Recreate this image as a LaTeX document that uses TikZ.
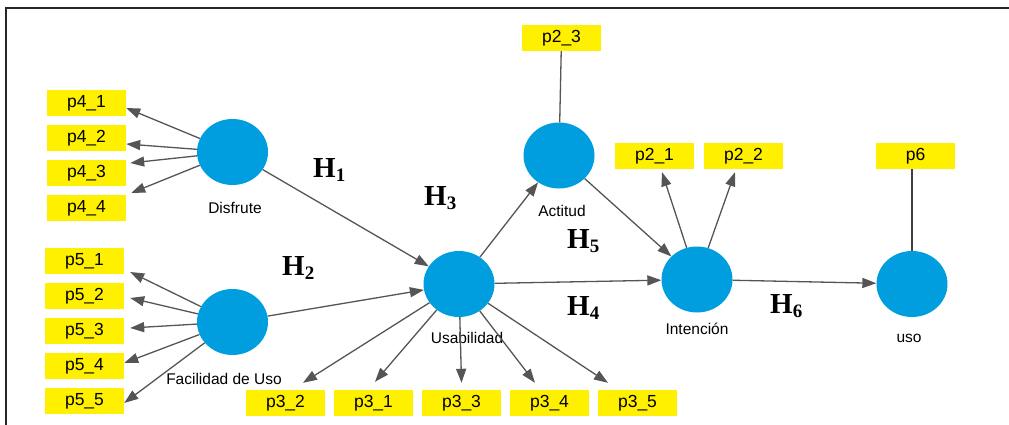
\documentclass[tikz,border=0pt]{standalone}
\usepackage{fontspec}
\setmainfont{Liberation Sans}
\newfontfamily\hypfont{Liberation Serif}
\usetikzlibrary{arrows.meta}
\usetikzlibrary{shapes.geometric}
\definecolor{constr}{RGB}{0,158,222}
\definecolor{itembox}{RGB}{255,240,0}
\definecolor{pathgray}{RGB}{85,85,85}
\newcommand{\hyp}[1]{{\hypfont\bfseries\fontsize{29}{30}\selectfont H\raisebox{-4.5pt}{\fontsize{19}{19}\selectfont #1}}}

\begin{document}
\begin{tikzpicture}[x=1pt,y=-1pt,
  construct/.style={ellipse,fill=constr,minimum width=71pt,minimum height=66pt,inner sep=0pt},
  item/.style={fill=itembox,minimum width=79pt,minimum height=26pt,inner sep=0pt,font=\fontsize{17.5}{17.5}\selectfont},
  lbl/.style={inner sep=0pt,font=\fontsize{15.5}{15.5}\selectfont},
  hlbl/.style={anchor=base west,inner sep=0pt},
  link/.style={draw=pathgray,line width=1.3pt,-{Triangle[length=14pt,width=10pt]}},
  tie/.style={draw=pathgray,line width=1.3pt}]
\useasboundingbox (0,0) rectangle (1009,425);

%Frame
\draw [line width=1.5pt,black!85] (6,425) -- (6,8) -- (1009,8);

%Shape: constructs
\node [construct] (dis) at (232.5,152) {};
\node [construct] (fac) at (232.5,322) {};
\node [construct] (usa) at (459,284) {};
\node [construct] (act) at (559,155.5) {};
\node [construct] (int) at (697,279.5) {};
\node [construct] (uso) at (912,284) {};

% Text Node
\node [lbl] (lDis) at (235,208) {Disfrute};
\node [lbl] (lFac) at (224,379) {Facilidad de Uso};
\node [lbl] (lUsa) at (467,338) {Usabilidad};
\node [lbl] (lAct) at (562,211) {Actitud};
\node [lbl] (lInt) at (697,329) {Intención};
\node [lbl] (lUso) at (909,338) {uso};

%Shape: indicators
\node [item] (p41) at (86.5,103) {p4\_1};
\node [item] (p42) at (86.5,138) {p4\_2};
\node [item] (p43) at (86.5,173) {p4\_3};
\node [item] (p44) at (86.5,208) {p4\_4};
\node [item] (p51) at (84.5,261) {p5\_1};
\node [item] (p52) at (84.5,296) {p5\_2};
\node [item] (p53) at (84.5,331) {p5\_3};
\node [item] (p54) at (84.5,366) {p5\_4};
\node [item] (p55) at (84.5,401) {p5\_5};
\node [item] (p32) at (285.5,403) {p3\_2};
\node [item] (p31) at (373.5,403) {p3\_1};
\node [item] (p33) at (461.5,403) {p3\_3};
\node [item] (p34) at (549.5,403) {p3\_4};
\node [item] (p35) at (637.5,403) {p3\_5};
\node [item] (p23) at (561.5,38) {p2\_3};
\node [item] (p21) at (654.5,156) {p2\_1};
\node [item] (p22) at (743.5,156) {p2\_2};
\node [item] (p6) at (915.5,156) {p6};

%Straight Lines: loadings
\draw [link] (dis) -- ([yshift=-5pt]p41.east);
\draw [link] (dis) -- ([yshift=-6pt]p42.east);
\draw [link] (dis) -- ([xshift=4pt,yshift=10pt]p43.east);
\draw [link] (dis) -- ([xshift=5pt,yshift=15pt]p44.east);
\draw [link] (fac) -- ([xshift=6pt,yshift=-11pt]p51.east);
\draw [link] (fac) -- ([xshift=6pt,yshift=-2pt]p52.east);
\draw [link] (fac) -- ([xshift=6pt,yshift=3pt]p53.east);
\draw [link] (fac) -- ([yshift=3pt]p54.east);
\draw [link] (fac) -- ([yshift=-2pt]p55.east);
\draw [link] (usa) -- ([xshift=17.5pt,yshift=7pt]p32.north);
\draw [link] (usa) -- ([xshift=1.5pt,yshift=8pt]p31.north);
\draw [link] (usa) -- ([yshift=7pt]p33.north);
\draw [link] (usa) -- ([xshift=-14.5pt,yshift=7pt]p34.north);
\draw [link] (usa) -- ([xshift=-29.5pt,yshift=7pt]p35.north);
\draw [link] (int) -- ([xshift=7.5pt,yshift=-3pt]p21.south);
\draw [link] (int) -- ([xshift=-8.5pt,yshift=-3pt]p22.south);
\draw [tie] (act) -- (p23);
\draw [tie,line width=2.2pt,draw=black!75] (uso) -- (uso |- p6.south);

%Straight Lines: paths
\draw [link] (dis) -- (usa);
\draw [link] (fac) -- (usa);
\draw [link] (usa) -- (act);
\draw [link] (usa) -- (int);
\draw [link] (act) -- (int);
\draw [link] (int) -- (uso);

% Text Node: hypotheses
\node [hlbl] (h1) at (313,177) {\hyp{1}};
\node [hlbl] (h2) at (282,275) {\hyp{2}};
\node [hlbl] (h3) at (424,205) {\hyp{3}};
\node [hlbl] (h5) at (567,248) {\hyp{5}};
\node [hlbl] (h4) at (567,315) {\hyp{4}};
\node [hlbl] (h6) at (770,313) {\hyp{6}};

\end{tikzpicture}
\end{document}
